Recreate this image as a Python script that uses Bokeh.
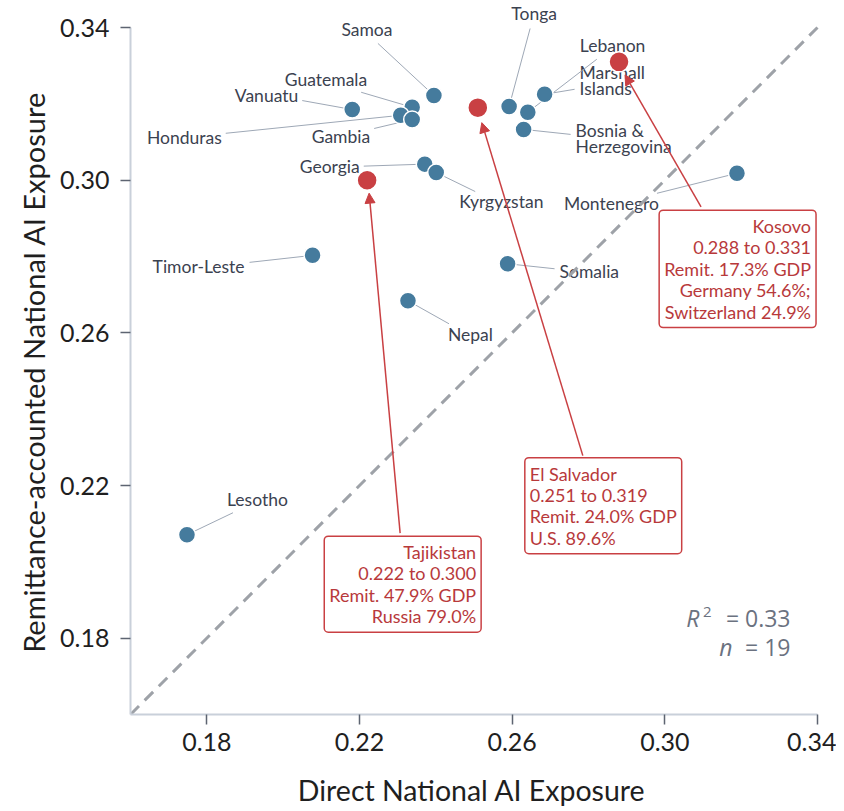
from bokeh.plotting import figure
from bokeh.models import (Range1d, FixedTicker, ColumnDataSource, Label, Arrow,
                          NormalHead, CustomJSTickFormatter)
from bokeh.embed import file_html
from bokeh.resources import INLINE

# ---------------- data ----------------
countries = ["Lesotho", "Timor-Leste", "Nepal", "Somalia", "Montenegro", "Georgia",
             "Kyrgyzstan", "Samoa", "Vanuatu", "Guatemala", "Honduras", "Gambia",
             "Tonga", "Lebanon", "Marshall\nIslands", "Bosnia &\nHerzegovina"]
direct = [0.1748, 0.2077, 0.2327, 0.2588, 0.3189, 0.2371,
          0.2401, 0.2395, 0.2181, 0.2338, 0.2308, 0.2338,
          0.2592, 0.2641, 0.2685, 0.2630]
remit = [0.2071, 0.2803, 0.2684, 0.2781, 0.3018, 0.3042,
         0.3020, 0.3222, 0.3185, 0.3191, 0.3170, 0.3159,
         0.3193, 0.3178, 0.3225, 0.3133]

hl_names = ["Tajikistan", "El Salvador", "Kosovo"]
hl_direct = [0.222, 0.251, 0.288]
hl_remit = [0.300, 0.319, 0.331]
hl_gdp_share = ["47.9%", "24.0%", "17.3%"]
hl_corridor = ["Russia 79.0%", "U.S. 89.6%", "Germany 54.6%;\nSwitzerland 24.9%"]

r_squared = 0.33
n_obs = 19
ticks = [0.18, 0.22, 0.26, 0.30, 0.34]
axis_min, axis_max = 0.16, 0.34

# ---------------- layout (pixel offsets, screen y down) ----------------
AXIS_PX = 687                      # pixel length of the 0.16-0.34 span
S = AXIS_PX / (axis_max - axis_min)
PAD_TOP = 27                       # room above 0.34 for labels
PAD_RIGHT = 10                     # room right of 0.34

# label: (dx, dy, align, leader_dx, leader_dy)
label_layout = {
    "Lesotho": (40, -35, "left", 46, -22),
    "Timor-Leste": (-68, 11, "right", -63, 7),
    "Nepal": (40, 34, "left", 41, 23),
    "Somalia": (52, 8, "left", 47, 5),
    "Montenegro": (-78, 30, "right", -80, 20),
    "Georgia": (-65, 2, "right", -61, 2),
    "Kyrgyzstan": (23, 29, "left", 39, 19),
    "Samoa": (-67, -66, "center", -56, -52),
    "Vanuatu": (-54, -14, "right", -50, -9),
    "Guatemala": (-45, -28, "right", -51, -15),
    "Honduras": (-179, 22, "right", -175, 18),
    "Gambia": (-42, 17, "right", -38, 9),
    "Tonga": (25, -93, "center", 21, -78),
    "Lebanon": (52, -67, "left", 69, -53),
    "Marshall\nIslands": (35, -14, "left", 30, -5),
    "Bosnia &\nHerzegovina": (52, 9, "left", 47, 5),
}
# box: (text_dx, text_dy, align, arrow_start_dx, arrow_start_dy, arrow_end_dx, arrow_end_dy)
box_layout = {
    "Tajikistan": (114, 404, "right", 33, 353, 2, 13),
    "El Salvador": (47, 398, "left", 105, 348, 4, 15),
    "Kosovo": (197, 207, "right", 82, 145, 6, 13),
}

def dxp(x, d):
    return x + d / S

def dyp(y, d):
    return y - d / S

BLUE = "#457b9d"
RED = "#c94043"
RED_TEXT = "#b8393b"
LABEL_C = "#3b4250"
LEADER_C = "#9ea8b6"
FONT = "Lato"
NBSP = "\u00a0"

p = figure(frame_width=AXIS_PX + PAD_RIGHT, frame_height=AXIS_PX + PAD_TOP,
           x_range=Range1d(axis_min, axis_max + PAD_RIGHT / S),
           y_range=Range1d(axis_min, axis_max + PAD_TOP / S),
           output_backend="svg", toolbar_location=None,
           min_border_left=130, min_border_top=0, min_border_right=9,
           min_border_bottom=84, background_fill_color="white",
           border_fill_color="white")
p.outline_line_color = None
p.grid.visible = False

for ax in (p.xaxis[0], p.yaxis[0]):
    ax.bounds = (axis_min, axis_max)
    ax.ticker = FixedTicker(ticks=ticks)
    ax.formatter = CustomJSTickFormatter(code="return tick.toFixed(2);")
    ax.axis_line_color = "#c9d0da"
    ax.axis_line_width = 2
    ax.major_tick_line_color = "#5d6471"
    ax.major_tick_line_width = 1.5
    ax.major_tick_out = 10
    ax.major_tick_in = 0
    ax.minor_tick_line_color = None
    ax.major_label_text_font = FONT
    ax.major_label_text_font_size = "25px"
    ax.major_label_text_color = "#1f1f1f"
    ax.axis_label_text_font = FONT
    ax.axis_label_text_font_style = "normal"
    ax.axis_label_text_color = "#1f1f1f"

# trailing no-break spaces keep the titles centred on the 0.16-0.34 span
p.xaxis.axis_label = "Direct National AI Exposure" + NBSP * 2
p.yaxis.axis_label = "Remittance-accounted National AI Exposure" + NBSP * 4
p.xaxis.axis_label_text_font_size = "28.5px"
p.yaxis.axis_label_text_font_size = "29px"
p.xaxis.major_label_standoff = 8
p.xaxis.axis_label_standoff = 19
p.yaxis.major_label_standoff = 11
p.yaxis.axis_label_standoff = 6

# diagonal y = x over the axis span
p.line([axis_min, axis_max], [axis_min, axis_max], line_color="#9ea2a8",
       line_width=3, line_dash="12 8")

# leader lines and country labels
lead = dict(x0=[], y0=[], x1=[], y1=[])
for c, x, y in zip(countries, direct, remit):
    dx, dy, al, ldx, ldy = label_layout[c]
    lead["x0"].append(x); lead["y0"].append(y)
    lead["x1"].append(dxp(x, ldx)); lead["y1"].append(dyp(y, ldy))
    p.add_layout(Label(x=dxp(x, dx), y=dyp(y, dy), text=c, text_align=al,
                       text_baseline="middle", text_font=FONT, text_font_size="17.5px",
                       text_color=LABEL_C, text_line_height=0.78, level="underlay"))

p.segment("x0", "y0", "x1", "y1", source=ColumnDataSource(lead),
          line_color=LEADER_C, line_width=1)

# points
p.scatter(direct, remit, size=17, fill_color=BLUE, line_color="white", line_width=1.5)
p.scatter(hl_direct, hl_remit, size=20, fill_color=RED, line_color="white", line_width=1.5)

# highlight boxes + arrows
for name, x, y, share, corr in zip(hl_names, hl_direct, hl_remit, hl_gdp_share, hl_corridor):
    tdx, tdy, al, asx, asy, aex, aey = box_layout[name]
    txt = f"{name}\n{x:.3f} to {y:.3f}\nRemit. {share} GDP\n{corr}"
    p.add_layout(Arrow(end=NormalHead(size=10, fill_color=RED, line_color=RED, line_width=1),
                       x_start=dxp(x, asx), y_start=dyp(y, asy),
                       x_end=dxp(x, aex), y_end=dyp(y, aey),
                       line_color=RED, line_width=1.5))
    p.add_layout(Label(x=dxp(x, tdx), y=dyp(y, tdy), text=txt, text_align=al,
                       text_baseline="middle", text_font=FONT, text_font_size="18px",
                       text_color=RED_TEXT, text_line_height=0.97,
                       border_line_color=RED, border_line_width=1.5,
                       background_fill_color="white", padding=5, border_radius=4))

# statistics text
stat_font = "Open Sans"
stat_c = "#6b7280"
p.add_layout(Label(x=axis_max - 27 / S, y=axis_min + 97 / S, text=f"= {r_squared:.2f}",
                   text_align="right", text_baseline="middle", text_font=stat_font,
                   text_font_size="23px", text_color=stat_c))
p.add_layout(Label(x=axis_max - 118 / S, y=axis_min + 97 / S, text="R",
                   text_align="right", text_baseline="middle", text_font=stat_font,
                   text_font_style="italic", text_font_size="23px", text_color=stat_c))
p.add_layout(Label(x=axis_max - 106 / S, y=axis_min + 103 / S, text="2",
                   text_align="right", text_baseline="middle", text_font=stat_font,
                   text_font_size="15px", text_color=stat_c))
p.add_layout(Label(x=axis_max - 27 / S, y=axis_min + 68 / S, text=f"= {n_obs}",
                   text_align="right", text_baseline="middle", text_font=stat_font,
                   text_font_size="23px", text_color=stat_c))
p.add_layout(Label(x=axis_max - 85 / S, y=axis_min + 68 / S, text="n",
                   text_align="right", text_baseline="middle", text_font=stat_font,
                   text_font_style="italic", text_font_size="23px", text_color=stat_c))

open("out.html", "w").write(file_html(p, INLINE))
